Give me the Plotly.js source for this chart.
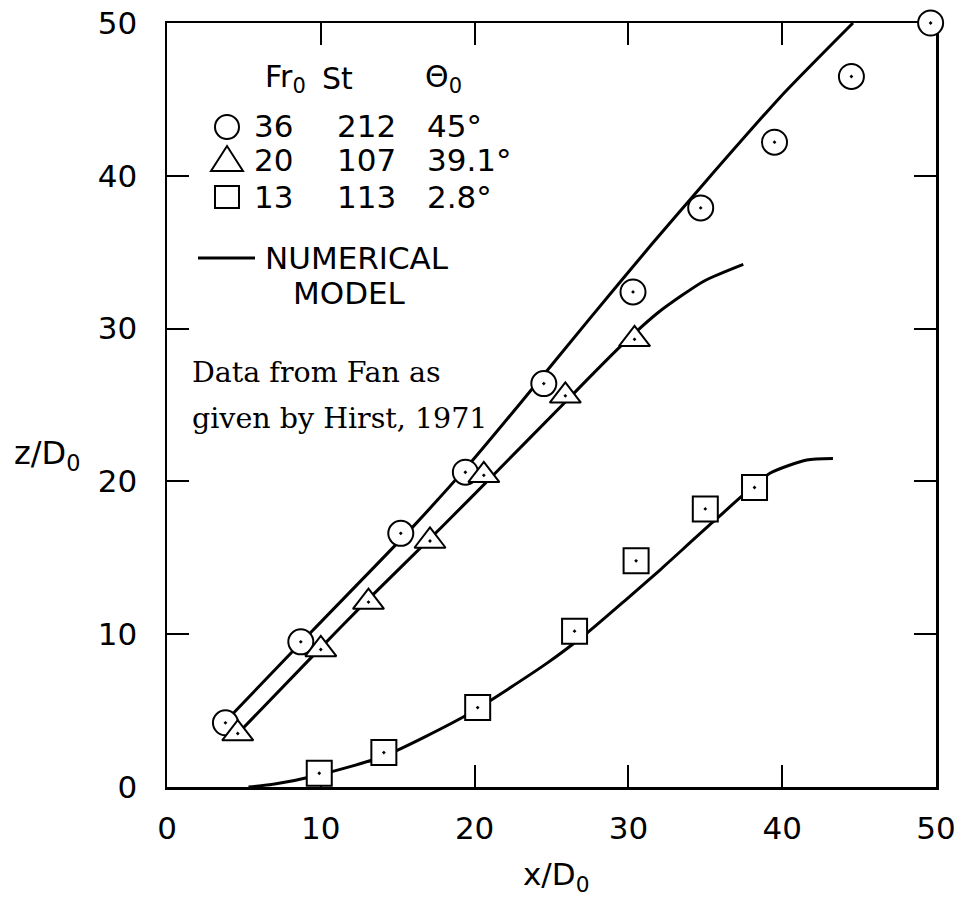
<!DOCTYPE html>
<html>
<head>
<meta charset="utf-8">
<script src="https://cdn.plot.ly/plotly-3.0.1.min.js"></script>
<style>html,body{margin:0;padding:0;background:#fff;}#chart{width:960px;height:907px;}</style>
</head>
<body>
<div id="chart"></div>
<script>
// ---- data ----
const circleX = [3.8, 8.7, 15.2, 19.4, 24.5, 30.3, 34.7, 39.5, 44.5, 49.65];
const circleY = [4.2, 9.5, 16.6, 20.6, 26.4, 32.4, 37.9, 42.2, 46.5, 50.0];
const triangleX = [4.6, 10.0, 13.1, 17.1, 20.6, 25.9, 30.4];
const triangleY = [3.5, 9.0, 12.1, 16.1, 20.4, 25.6, 29.3];
const squareX = [9.9, 14.1, 20.2, 26.5, 30.5, 35.0, 38.2];
const squareY = [0.9, 2.25, 5.2, 10.2, 14.8, 18.2, 19.6];

const modelCircleX = [4.0, 9.5, 16.0, 19.7, 23.0, 27.5, 31.5, 35.0, 39.9, 44.6];
const modelCircleY = [4.5, 10.27, 17.04, 21.18, 25.15, 30.67, 35.5, 39.6, 45.18, 50.0];
const modelTriangleX = [4.8, 9.5, 13.0, 17.75, 21.4, 25.9, 29.45, 32.0, 34.9, 37.47];
const modelTriangleY = [3.7, 8.6, 12.2, 16.9, 20.6, 25.2, 28.8, 31.1, 33.1, 34.2];
const modelSquareX = [5.3, 7.0, 9.88, 14.13, 19.49, 24.69, 27.29, 29.89, 32.05, 35.52, 39.2, 41.6, 43.3];
const modelSquareY = [0, 0.2, 0.79, 2.03, 4.71, 8.09, 10.06, 12.3, 14.2, 17.36, 20.53, 21.4, 21.5];

const tickVals = [0, 10, 20, 30, 40, 50];
const tickText = ['0', '10', '20', '30', '40', '50'];

const legendHeader = ['Fr<sub>0</sub>', 'St', 'Θ<sub>0</sub>'];
const legendRows = [
  ['36', '212', '45°'],
  ['20', '107', '39.1°'],
  ['13', '113', '2.8°']
];
const modelLabel = ['NUMERICAL', 'MODEL'];
const sourceNote = ['Data from Fan as', 'given by Hirst, 1971'];

// ---- layout helpers (pixel -> paper) ----
const W = 960, H = 907;
const L = 167, R = 936, T = 23, B = 787;
const px = x => (x - L) / (R - L);
const py = y => (B - y) / (B - T);

const sansFont = 'DejaVu Sans, Liberation Sans, sans-serif';
const serifFont = 'DejaVu Serif, Liberation Serif, serif';

const lineStyle = {color: '#000', width: 3};
function modelTrace(x, y) {
  return {x, y, type: 'scatter', mode: 'lines', line: Object.assign({shape: 'spline', smoothing: 0.6}, lineStyle),
    hoverinfo: 'skip', showlegend: false};
}
function markerTrace(x, y, symbol, size) {
  return {x, y, type: 'scatter', mode: 'markers', cliponaxis: false, showlegend: false,
    marker: {symbol, size, color: '#fff', line: {color: '#000', width: 2}}};
}

const traces = [
  modelTrace(modelCircleX, modelCircleY),
  modelTrace(modelTriangleX, modelTriangleY),
  modelTrace(modelSquareX, modelSquareY),
  markerTrace(circleX, circleY, 'circle-dot', 25),
  markerTrace(triangleX, triangleY, 'triangle-up-dot', 27),
  markerTrace(squareX, squareY, 'square-dot', 25)
];

const annotations = [];
function txt(text, xpix, ypix, size, opts) {
  annotations.push(Object.assign({
    text, xref: 'paper', yref: 'paper', x: px(xpix), y: py(ypix),
    xanchor: 'left', yanchor: 'middle', showarrow: false,
    font: {family: sansFont, size, color: '#000'}
  }, opts || {}));
}
const colX = [252, 335, 425];
const headX = [263, 320, 423];
legendHeader.forEach((t, i) => txt(t, headX[i], 78, 30));
const rowY = [126, 160, 197];
legendRows.forEach((row, r) => row.forEach((t, c) => txt(t, colX[c], rowY[r], 31)));
txt(modelLabel[0], 263, 258, 31);
txt(modelLabel[1], 349, 293, 31, {xanchor: 'center'});
txt(sourceNote[0], 190, 372, 28.5, {font: {family: serifFont, size: 28.5, color: '#000'}});
txt(sourceNote[1], 190, 418, 28.5, {font: {family: serifFont, size: 28.5, color: '#000'}});
// axis titles
txt('x/D<sub>0</sub>', 556, 876, 31, {xanchor: 'center'});
txt('z/D<sub>0</sub>', 12, 455, 32);

const shapes = [
  // legend symbols
  {type: 'circle', xref: 'paper', yref: 'paper', xsizemode: 'pixel', ysizemode: 'pixel',
   xanchor: px(227), yanchor: py(127), x0: -12, x1: 12, y0: -12, y1: 12,
   line: {color: '#000', width: 2}, fillcolor: 'rgba(0,0,0,0)'},
  {type: 'path', xref: 'paper', yref: 'paper', xsizemode: 'pixel', ysizemode: 'pixel',
   xanchor: px(227), yanchor: py(160), path: 'M -16,-11 L 16,-11 L 0,14 Z',
   line: {color: '#000', width: 2}, fillcolor: 'rgba(0,0,0,0)'},
  {type: 'rect', xref: 'paper', yref: 'paper', xsizemode: 'pixel', ysizemode: 'pixel',
   xanchor: px(227), yanchor: py(197), x0: -12, x1: 12, y0: -11, y1: 11,
   line: {color: '#000', width: 2}, fillcolor: 'rgba(0,0,0,0)'},
  // legend line
  {type: 'line', xref: 'paper', yref: 'paper', x0: px(198), x1: px(255), y0: py(258), y1: py(258),
   line: {color: '#000', width: 3}}
];

const axisCommon = {
  range: [0, 50], tickmode: 'array', tickvals: tickVals, ticktext: tickText,
  showgrid: false, zeroline: false, showline: true, linecolor: '#000', linewidth: 2.5,
  mirror: 'ticks', ticks: 'inside', ticklen: 22, tickwidth: 2, tickcolor: '#000',
  layer: 'below traces',
  tickfont: {family: sansFont, size: 31, color: '#000'}, fixedrange: true
};

const layout = {
  width: W, height: H,
  margin: {l: L, r: W - R, t: T, b: H - B, pad: 0},
  paper_bgcolor: '#fff', plot_bgcolor: '#fff',
  showlegend: false,
  xaxis: Object.assign({}, axisCommon, {ticklabelstandoff: 12}),
  yaxis: Object.assign({}, axisCommon, {ticklabelstandoff: 21}),
  annotations, shapes
};

Plotly.newPlot('chart', traces, layout, {staticPlot: true, displayModeBar: false});
</script>
</body>
</html>
